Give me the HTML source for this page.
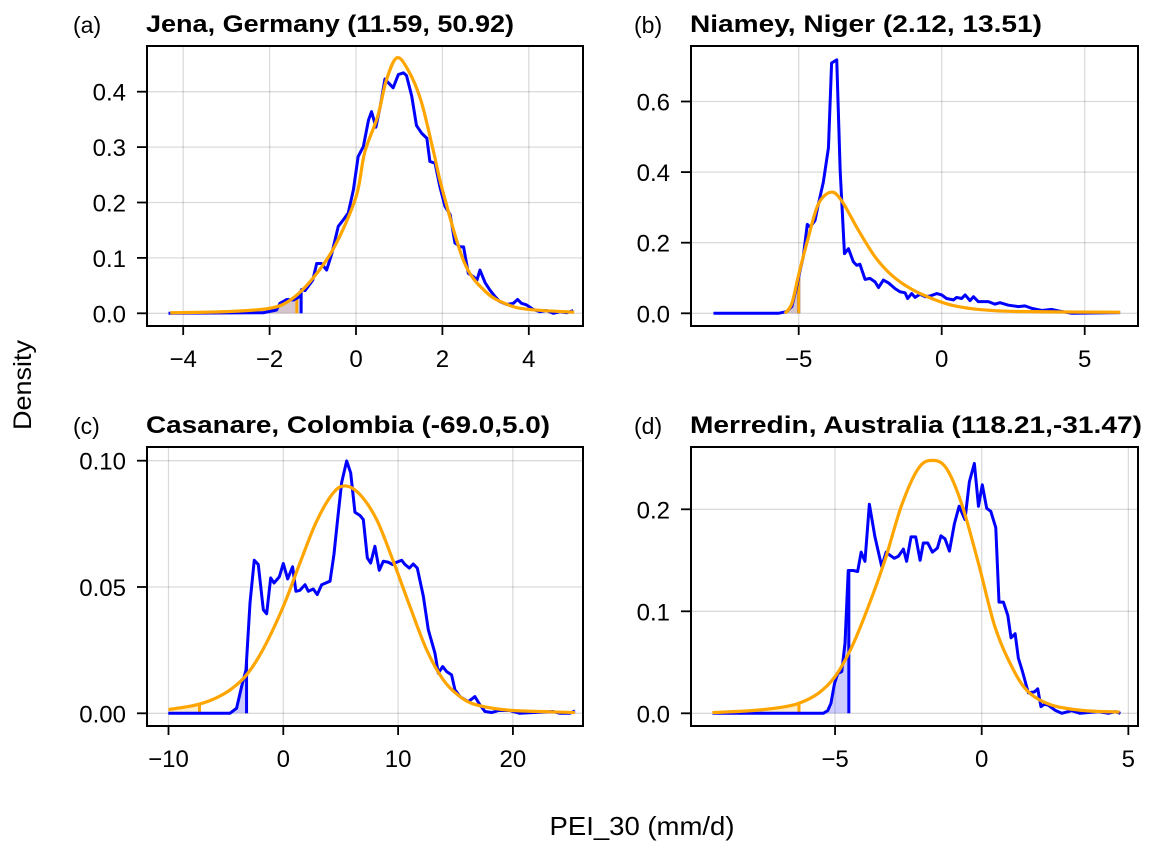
<!DOCTYPE html>
<html><head><meta charset="utf-8"><style>
body{margin:0;background:#fff;font-family:"Liberation Sans",sans-serif}
svg text{font-family:"Liberation Sans",sans-serif}
</style></head><body>
<svg id="fig" width="1154" height="853" viewBox="0 0 1154 853">
<text x="31" y="385" font-size="25" text-anchor="middle" textLength="90" lengthAdjust="spacingAndGlyphs" transform="rotate(-90 31 385)">Density</text>
<text x="642" y="835" font-size="26" text-anchor="middle" textLength="185" lengthAdjust="spacingAndGlyphs">PEI_30 (mm/d)</text>
</svg>
<script>
// Panel (a) Jena
const aBlueX=[-4.34,-2.15,-1.84,-1.76,-1.6,-1.45,-1.33,-1.26,-1.18,-1.0,-0.91,-0.8,-0.68,-0.56,-0.41,-0.29,-0.18,-0.06,0.05,0.17,0.29,0.36,0.46,0.56,0.67,0.75,0.86,0.98,1.1,1.17,1.29,1.4,1.52,1.64,1.71,1.83,1.94,2.06,2.18,2.29,2.41,2.49,2.6,2.72,2.8,2.87,2.99,3.1,3.22,3.33,3.49,3.64,3.74,3.83,3.95,4.1,4.26,4.41,4.57,4.72,4.88,5.03];
const aBlueY=[0,0.001,0.006,0.018,0.025,0.024,0.029,0.043,0.041,0.06,0.09,0.09,0.078,0.108,0.157,0.169,0.181,0.223,0.283,0.301,0.349,0.364,0.336,0.373,0.423,0.416,0.407,0.431,0.434,0.429,0.392,0.339,0.325,0.316,0.274,0.271,0.229,0.193,0.178,0.127,0.12,0.12,0.072,0.066,0.06,0.078,0.055,0.042,0.03,0.021,0.016,0.018,0.025,0.018,0.015,0.007,0.003,0.005,0,0.003,0.001,0.005];
const aFitX=[-4.3,-3,-2,-1.5,-1,-0.5,0,0.2,0.5,0.7,0.94,1.2,1.5,1.8,2,2.5,3,3.5,4,5.05];
const aFitY=[0.001,0.003,0.009,0.025,0.063,0.12,0.21,0.29,0.355,0.42,0.461,0.44,0.385,0.29,0.223,0.093,0.039,0.016,0.007,0.002];
// Panel (b) Niamey
const bBlueX=[-7.98,-5.71,-5.42,-5.24,-5.07,-4.95,-4.84,-4.7,-4.6,-4.43,-4.31,-4.14,-3.96,-3.85,-3.67,-3.55,-3.4,-3.26,-3.09,-2.97,-2.86,-2.68,-2.51,-2.33,-2.21,-2.04,-1.86,-1.63,-1.46,-1.28,-1.19,-1.05,-0.93,-0.76,-0.58,-0.41,-0.17,0,0.17,0.41,0.52,0.7,0.82,0.99,1.11,1.28,1.63,1.86,2.04,2.33,2.68,2.91,3.15,3.5,3.85,4.2,4.55,6.24];
const bBlueY=[0,0,0.005,0.019,0.075,0.122,0.16,0.252,0.244,0.263,0.31,0.371,0.469,0.709,0.718,0.404,0.169,0.183,0.146,0.136,0.139,0.096,0.099,0.089,0.073,0.094,0.086,0.07,0.061,0.058,0.042,0.056,0.045,0.054,0.047,0.049,0.056,0.052,0.042,0.038,0.045,0.042,0.052,0.036,0.047,0.033,0.033,0.026,0.03,0.023,0.019,0.021,0.014,0.008,0.011,0.005,0,0.002];
const bFitX=[-5.48,-5.24,-4.99,-4.66,-4.31,-3.87,-3.5,-2.91,-2.33,-1.75,-1.05,-0.35,0.35,1.28,2.68,6.24];
const bFitY=[0,0.028,0.113,0.216,0.31,0.343,0.319,0.235,0.16,0.108,0.068,0.042,0.023,0.011,0.005,0.003];
// Panel (c) Casanare
const cBlueX=[-10.02,-4.65,-4.07,-3.63,-3.25,-2.9,-2.53,-2.18,-1.74,-1.45,-1.1,-0.81,-0.35,0,0.38,0.81,1.1,1.45,1.89,2.18,2.61,2.96,3.34,4.07,4.41,4.7,5.08,5.52,5.87,6.24,6.68,6.97,7.32,7.61,7.98,8.36,8.71,9.15,9.52,9.87,10.31,10.6,10.98,11.32,11.67,12.2,12.63,13.21,13.5,13.88,14.23,14.66,14.95,15.39,16.11,16.69,17.13,17.57,18.15,18.73,19.74,20.6,23.5,24.1,24.97,25.4];
const cBlueY=[0,0,0.002,0.0106,0.0172,0.0437,0.0606,0.0589,0.041,0.0394,0.0536,0.0516,0.054,0.0593,0.0532,0.058,0.0483,0.0487,0.0509,0.0483,0.0492,0.047,0.0509,0.0523,0.0628,0.0754,0.0913,0.0999,0.0952,0.0796,0.0783,0.0767,0.0615,0.0595,0.0661,0.0566,0.0602,0.0598,0.0589,0.0598,0.0606,0.0589,0.0575,0.0591,0.0575,0.0463,0.0331,0.0238,0.0159,0.0185,0.0165,0.0152,0.0093,0.0066,0.0046,0.0066,0.0033,0.0007,0.0003,0.0011,0.0011,0,0.0007,0,0,0.001];
const cFitX=[-10,-8.5,-7.26,-5.8,-4.5,-3.2,-1.74,0,1.45,2.9,4.36,5.43,6.68,8.13,9.58,11.03,12.49,13.94,15.39,16.86,19.47,22.37,25.4];
const cFitY=[0.0015,0.0025,0.0037,0.0062,0.0097,0.0152,0.0255,0.0423,0.0595,0.076,0.0873,0.09,0.0866,0.0767,0.0602,0.0423,0.0251,0.0132,0.0066,0.0033,0.0013,0.0007,0.0003];
// Panel (d) Merredin
const dBlueX=[-9.18,-5.4,-5.25,-5.14,-5.02,-4.91,-4.77,-4.66,-4.55,-4.38,-4.23,-4.11,-3.98,-3.83,-3.64,-3.41,-3.26,-3.13,-2.98,-2.84,-2.67,-2.56,-2.41,-2.25,-2.1,-1.99,-1.84,-1.68,-1.51,-1.39,-1.25,-1.1,-0.93,-0.77,-0.57,-0.42,-0.25,-0.11,0.02,0.17,0.31,0.48,0.59,0.74,0.89,1.0,1.14,1.25,1.39,1.59,1.8,1.91,2.02,2.14,2.27,2.5,2.73,3.07,3.35,3.98,4.32,4.55,4.73];
const dBlueY=[0,0,0.0026,0.0098,0.029,0.039,0.041,0.069,0.14,0.14,0.139,0.158,0.149,0.205,0.173,0.144,0.158,0.155,0.152,0.154,0.161,0.149,0.173,0.173,0.15,0.167,0.167,0.158,0.162,0.174,0.171,0.159,0.186,0.203,0.19,0.227,0.245,0.203,0.224,0.201,0.198,0.182,0.109,0.109,0.096,0.074,0.078,0.054,0.041,0.02,0.021,0.024,0.0065,0.009,0.008,0.003,0,0.0026,0,0.0016,0,0.0016,0];
const dFitX=[-9.18,-7.84,-6.8,-6.23,-5.57,-5.0,-4.43,-3.86,-3.3,-2.73,-2.16,-1.68,-1.2,-0.68,-0.11,0.45,1.02,1.59,2.39,3.52,4.7];
const dFitY=[0.0007,0.0026,0.006,0.0098,0.0196,0.036,0.065,0.105,0.15,0.204,0.24,0.248,0.24,0.205,0.147,0.085,0.046,0.021,0.008,0.0026,0.0013];
const xTicksA=[-4,-2,0,2,4], yTicksA=[0,0.1,0.2,0.3,0.4], yLabA=["0.0","0.1","0.2","0.3","0.4"];
const xTicksB=[-5,0,5], yTicksB=[0,0.2,0.4,0.6], yLabB=["0.0","0.2","0.4","0.6"];
const xTicksC=[-10,0,10,20], yTicksC=[0,0.05,0.1], yLabC=["0.00","0.05","0.10"];
const xTicksD=[-5,0,5], yTicksD=[0,0.1,0.2], yLabD=["0.0","0.1","0.2"];

const NS="http://www.w3.org/2000/svg";
const svg=document.getElementById('fig');
function mk(tag,attrs,parent){const e=document.createElementNS(NS,tag);for(const k in attrs)e.setAttribute(k,attrs[k]);(parent||svg).appendChild(e);return e;}
function smooth(pts){let d=`M${pts[0][0]},${pts[0][1]}`;for(let i=0;i<pts.length-1;i++){const p0=pts[Math.max(0,i-1)],p1=pts[i],p2=pts[i+1],p3=pts[Math.min(pts.length-1,i+2)];const c1=[p1[0]+(p2[0]-p0[0])/6,p1[1]+(p2[1]-p0[1])/6],c2=[p2[0]-(p3[0]-p1[0])/6,p2[1]-(p3[1]-p1[1])/6];d+=` C${c1[0]},${c1[1]} ${c2[0]},${c2[1]} ${p2[0]},${p2[1]}`;}return d;}
function interp(xs,ys,t){for(let i=0;i<xs.length-1;i++){if(t>=xs[i]&&t<=xs[i+1]){const f=(t-xs[i])/(xs[i+1]-xs[i]);return ys[i]+f*(ys[i+1]-ys[i]);}}return ys[ys.length-1];}

function panel(cfg){
  const g=mk('g',{});
  
  
  const L=cfg.box[0],T=cfg.box[1],R=cfg.box[2],B=cfg.box[3];
  const sx=v=>cfg.x0+(v)*cfg.kx, sy=v=>cfg.y0-v*cfg.ky;
  cfg.xt.forEach(v=>{const l=mk('line',{x1:sx(v),x2:sx(v),y1:T,y2:B,stroke:'#000','stroke-opacity':0.14,'stroke-width':1.3},g);});
  cfg.yt.forEach(v=>{const l=mk('line',{x1:L,x2:R,y1:sy(v),y2:sy(v),stroke:'#000','stroke-opacity':0.14,'stroke-width':1.3},g);});
  function fill(xs,ys,thr,color,op,name){
    const pts=[];xs.forEach((x,i)=>{if(x<=thr)pts.push([sx(x),sy(ys[i])]);});
    const yt=interp(xs,ys,thr);pts.push([sx(thr),sy(yt)]);
    let d=`M${sx(xs[0])},${sy(0)} `+pts.map(p=>`L${p[0]},${p[1]}`).join(' ')+` L${sx(thr)},${sy(0)} Z`;
    const p=mk('path',{d:d,fill:color,'fill-opacity':op},g);
    const vl=mk('line',{x1:sx(thr),x2:sx(thr),y1:sy(0),y2:sy(yt),stroke:color,'stroke-width':3},g);
  }
  fill(cfg.bx,cfg.by,cfg.bthr,'#0000ff',0.2,'blue-tail-fill');
  fill(cfg.fx,cfg.fy,cfg.fthr,'#ffa500',0.2,'fit-tail-fill');
  const bl=mk('polyline',{points:cfg.bx.map((x,i)=>`${sx(x)},${sy(cfg.by[i])}`).join(' '),fill:'none',stroke:'#0000ff','stroke-width':3,'stroke-linejoin':'round'},g);
  
  const ol=mk('path',{d:smooth(cfg.fx.map((x,i)=>[sx(x),sy(cfg.fy[i])])),fill:'none',stroke:'#ffa500','stroke-width':3.2},g);
  
  const fr=mk('rect',{x:L,y:T,width:R-L,height:B-T,fill:'none',stroke:'#000','stroke-width':2},g);
  
  cfg.xt.forEach(v=>{mk('line',{x1:sx(v),x2:sx(v),y1:B,y2:B+9,stroke:'#000','stroke-width':1.8},g);
    const t=mk('text',{x:sx(v),y:B+41,'font-size':24,'text-anchor':'middle'},g);t.textContent=(v<0?'\u2212'+(-v):''+v);
    });
  cfg.yt.forEach((v,i)=>{mk('line',{x1:L-10,x2:L,y1:sy(v),y2:sy(v),stroke:'#000','stroke-width':1.8},g);
    const t=mk('text',{x:L-21,y:sy(v)+9,'font-size':24,'text-anchor':'end'},g);t.textContent=cfg.yl[i];
    });
  const lab=mk('text',{x:cfg.labx,y:T-13,'font-size':23},g);lab.textContent='('+cfg.id+')';
  
  const ti=mk('text',{x:L-1,y:T-14,'font-size':24,'font-weight':'bold',textLength:cfg.tw,lengthAdjust:'spacingAndGlyphs'},g);ti.textContent=cfg.title;
  
}
panel({id:'a',title:'Jena, Germany (11.59, 50.92)',tw:368,box:[147,46,583,326],x0:356,kx:43.2,y0:313.3,ky:554,xt:xTicksA,yt:yTicksA,yl:yLabA,bx:aBlueX,by:aBlueY,fx:aFitX,fy:aFitY,bthr:-1.27,fthr:-1.37,labx:73});
panel({id:'b',title:'Niamey, Niger (2.12, 13.51)',tw:352,box:[691,46,1138,326],x0:941.7,kx:28.6,y0:313.3,ky:353,xt:xTicksB,yt:yTicksB,yl:yLabB,bx:bBlueX,by:bBlueY,fx:bFitX,fy:bFitY,bthr:-5.0,fthr:-5.0,labx:634});
panel({id:'c',title:'Casanare, Colombia (-69.0,5.0)',tw:404,box:[147,447,583,726],x0:283.3,kx:11.48,y0:713.3,ky:2526,xt:xTicksC,yt:yTicksC,yl:yLabC,bx:cBlueX,by:cBlueY,fx:cFitX,fy:cFitY,bthr:-3.2,fthr:-7.3,labx:73});
panel({id:'d',title:'Merredin, Australia (118.21,-31.47)',tw:452,box:[691,447,1138,726],x0:981.7,kx:29.33,y0:713.3,ky:1020,xt:xTicksD,yt:yTicksD,yl:yLabD,bx:dBlueX,by:dBlueY,fx:dFitX,fy:dFitY,bthr:-4.53,fthr:-6.23,labx:634});
</script>
</body></html>
